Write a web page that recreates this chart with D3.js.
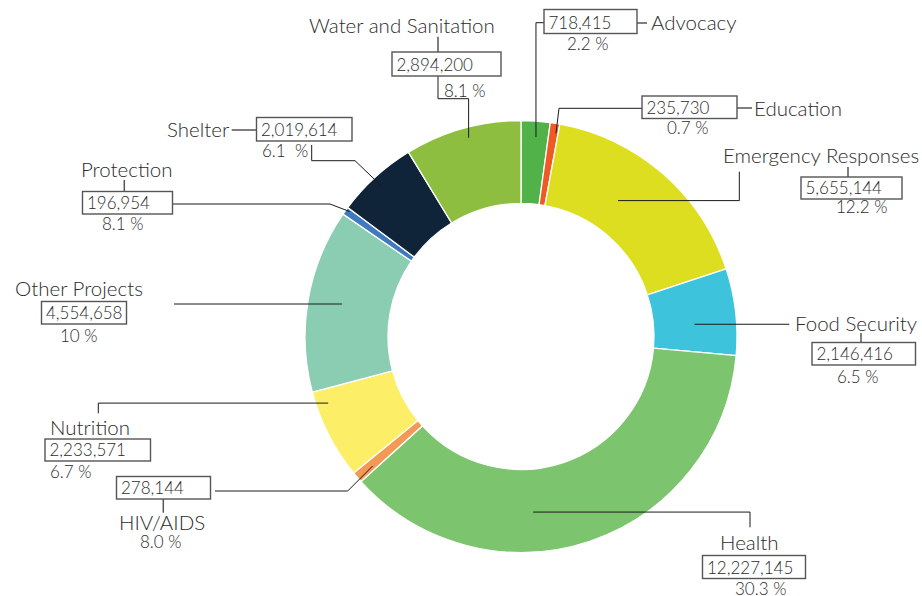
<!DOCTYPE html>
<html>
<head>
<meta charset="utf-8">
<script src="https://cdn.jsdelivr.net/npm/d3@7"></script>
<style>
  body { margin: 0; background: #fff; }
  text { font-family: Lato, "Open Sans", sans-serif; font-weight: 300; fill: #2b2b2b; white-space: pre; }
</style>
</head>
<body>
<div id="chart"></div>
<script>
// data, clockwise from 12 o'clock
const categories = ['Advocacy', 'Education', 'Emergency Responses', 'Food Security', 'Health',
  'HIV/AIDS', 'Nutrition', 'Other Projects', 'Protection', 'Shelter', 'Water and Sanitation'];
const amounts = [718415, 235730, 5655144, 2146416, 12227145, 278144, 2233571, 4554658, 196954, 2019614, 2894200];
const percentLabels = ['2.2 %', '0.7 %', '12.2 %', '6.5 %', '30.3 %', '8.0 %', '6.7 %', '10 %', '8.1 %', '6.1  %', '8.1 %'];
const colors = ['#52b24a', '#ef5a24', '#dede20', '#3dc3dc', '#7dc46e', '#f39955', '#fdee67', '#8bcdb2', '#3f79c0', '#0f2339', '#8dbe3f'];

// label layout: name / box / percent positions, leader route (t = position inside slice, r = radius)
const layout = {
  'Advocacy':            { name: [651, 30],  box: [544, 9.5, 93, 24],    pct: [567, 50],  tick: [[637, 23], [647, 23]],   route: [[544, 22.7], [536, 22.7]], snap: 'x', t: 0.55, r: 200 },
  'Education':           { name: [754, 116], box: [642, 96, 95, 22.5],   pct: [667, 134], tick: [[737, 108], [752, 108]], route: [[642, 108.3], [559, 108.3]], t: 0.77, r: 206 },
  'Emergency Responses': { name: [723, 163], box: [801, 177, 101, 22],   pct: [836, 213], tick: [[848, 167], [848, 177]], route: [[739.3, 171.7], [739.3, 200]], snap: 'y', t: 0.41, r: 167 },
  'Food Security':       { name: [795, 331], box: [812, 342.5, 103.5, 22.5], pct: [837, 383], tick: [[861, 333], [861, 342.5]], route: [[789.3, 324]], snap: 'y', t: 0.61, r: 174 },
  'Health':              { name: [720, 550], box: [702.5, 555.5, 103, 23], pct: [735, 595], tick: null, route: [[750, 527.3], [750, 512.3]], snap: 'y', t: 0.61, r: 176 },
  'HIV/AIDS':            { name: [119, 530], box: [116.5, 476.5, 94, 22.5], pct: [140, 548], tick: [[163.3, 499], [163.3, 512.7]], route: [[215, 491], [347.7, 491]], t: 0.36, r: 197 },
  'Nutrition':           { name: [50, 435],  box: [45, 439, 105.5, 22],  pct: [50, 478],  tick: null, route: [[98.3, 413.3], [98.3, 403.3]], snap: 'y', t: 0.83, r: 204 },
  'Other Projects':      { name: [15, 296],  box: [41.5, 301.5, 85, 22.5], pct: [60, 342], tick: null, route: [[174, 304.3]], snap: 'y', t: 0.51, r: 182 },
  'Protection':          { name: [81, 177],  box: [82.5, 191.5, 90, 22.5], pct: [102, 230], tick: [[124.3, 180], [124.3, 191.5]], route: [[172.5, 204], [330, 204]], t: 0.74, r: 212 },
  'Shelter':             { name: [167, 137], box: [256.5, 117.5, 95.5, 23.5], pct: [262, 157], tick: [[231.7, 130], [256.5, 130]], route: [[311.7, 145], [311.7, 160.7], [355, 160.7]], t: 0.48, r: 204 },
  'Water and Sanitation':{ name: [309, 33],  box: [392, 52, 109, 24],    pct: [444, 97],  tick: [[438, 36.7], [438, 52]], route: [[438, 76], [438, 98.7], [469, 98.7]], snap: 'x', t: 0.53, r: 205.5 }
};

const width = 922;
const height = 596;
const cx = 521, cy = 336.5;
const outerRadius = 216;
const innerRadius = 133;

const data = categories.map((name, i) => ({ name, value: amounts[i], pct: percentLabels[i], color: colors[i] }));

const svg = d3.select('#chart')
  .append('svg')
  .attr('width', width)
  .attr('height', height);

const g = svg.append('g')
  .attr('transform', `translate(${cx},${cy})`);

const pie = d3.pie()
  .value((d) => d.value)
  .sort(null);

const arcs = pie(data);

const arc = d3.arc()
  .innerRadius(innerRadius)
  .outerRadius(outerRadius);

g.append('g')
  .selectAll('path')
  .data(arcs)
  .enter()
  .append('path')
    .attr('d', arc)
    .attr('fill', (d) => d.data.color)
    .attr('stroke', '#fff')
    .attr('stroke-width', 1.3);

const fmt = d3.format(',');

// point inside a slice, in page coords
function slicePoint(a, t, r) {
  const ang = a.startAngle + t * (a.endAngle - a.startAngle);
  return [cx + r * Math.sin(ang), cy - r * Math.cos(ang)];
}

const labels = svg.append('g');

arcs.forEach((a) => {
  const L = layout[a.data.name];
  const end = slicePoint(a, L.t, L.r);
  const pts = L.route.map((p) => p.slice());
  const last = pts[pts.length - 1];
  if (L.snap === 'x') last[0] = end[0];
  if (L.snap === 'y') last[1] = end[1];
  pts.push(end);

  labels.append('path')
    .attr('d', d3.line()(pts))
    .attr('fill', 'none')
    .attr('stroke', '#1a1a1a')
    .attr('stroke-width', 1);

  if (L.tick) {
    labels.append('path')
      .attr('d', d3.line()(L.tick))
      .attr('stroke', '#555')
      .attr('stroke-width', 1.5);
  }

  labels.append('rect')
    .attr('x', L.box[0])
    .attr('y', L.box[1])
    .attr('width', L.box[2])
    .attr('height', L.box[3])
    .attr('fill', '#fff')
    .attr('stroke', '#555')
    .attr('stroke-width', 1.4);

  labels.append('text')
    .attr('x', L.box[0] + 4.5)
    .attr('y', L.box[1] + L.box[3] - 5)
    .style('font-size', '17px')
    .text(fmt(a.data.value));

  labels.append('text')
    .attr('x', L.name[0])
    .attr('y', L.name[1])
    .style('font-size', '20.5px')
    .text(a.data.name);

  labels.append('text')
    .attr('x', L.pct[0])
    .attr('y', L.pct[1])
    .style('font-size', '17px')
    .text(a.data.pct);
});
</script>
</body>
</html>
